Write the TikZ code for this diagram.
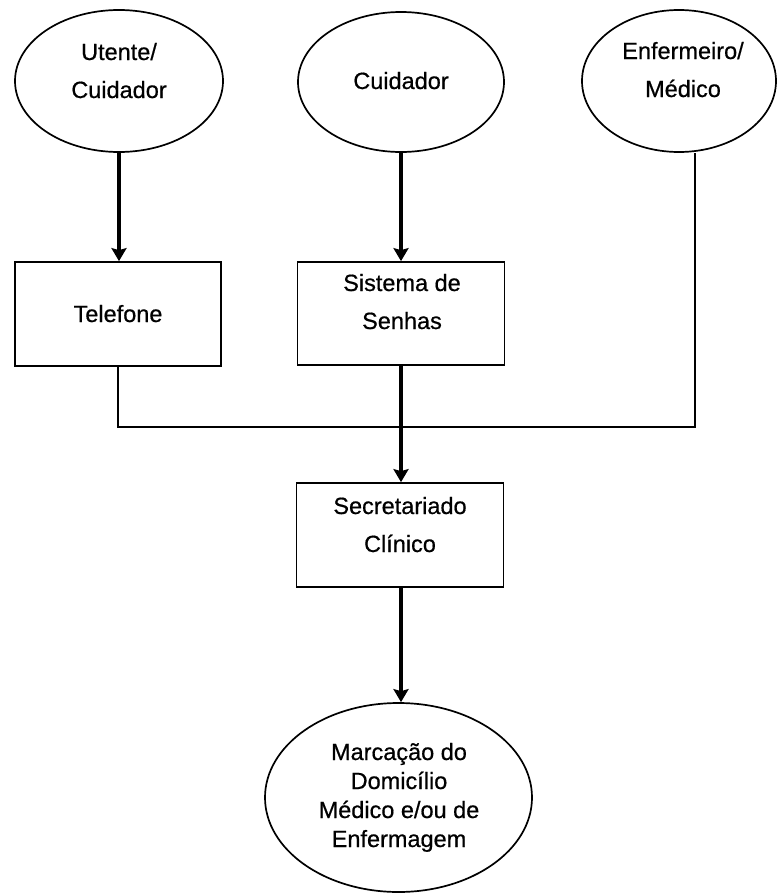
\documentclass[tikz,border=0pt]{standalone}
\usepackage{fontspec}
\setmainfont{Liberation Sans}[UprightFeatures={FakeBold=0.6}]
\usetikzlibrary{arrows.meta,shapes.geometric}
\begin{document}
\begin{tikzpicture}[x=1pt,y=-1pt,
  shapeline/.style={draw, line width=1.7pt},
  oval/.style={shapeline, ellipse, inner sep=0pt},
  box/.style={shapeline, rectangle, inner sep=0pt},
  txt/.style={font=\fontsize{23.5}{38}\selectfont, align=center, inner sep=0pt, anchor=base},
  txtb/.style={font=\fontsize{23.5}{29}\selectfont, align=center, inner sep=0pt, anchor=base},
  flow/.style={line width=3.4pt, -{Stealth[length=13pt,width=15pt,inset=2pt]}},
  link/.style={line width=1.7pt}]
\useasboundingbox (0,0) rectangle (777,894);

% shapes
\node[oval, minimum width=208pt, minimum height=142pt] (ute) at (119,81) {};
\node[oval, minimum width=206pt, minimum height=140pt] (cui) at (401,82) {};
\node[oval, minimum width=194pt, minimum height=142pt] (enf) at (679,81) {};
\node[box, minimum width=206pt, minimum height=104pt] (tel) at (118,314) {};
\node[box, minimum width=207pt, minimum height=103pt] (sis) at (401,313.5) {};
\node[box, minimum width=207pt, minimum height=104pt] (sec) at (400,535) {};
\node[oval, minimum width=267pt, minimum height=189pt] (mar) at (398.5,797.5) {};

% texts (anchor base = baseline of the last line)
\node[txt] (tute) at (119,98) {Utente/\\Cuidador};
\node[txt] (tcui) at (401,89) {Cuidador};
\node[txt] (tenf) at (683,97) {Enfermeiro/\\Médico};
\node[txt] (ttel) at (118,322) {Telefone};
\node[txt] (tsis) at (402,329) {Sistema de\\Senhas};
\node[txt] (tsec) at (400,552) {Secretariado\\Clínico};
\node[txtb] (tmar) at (399,847) {Marcação do\\Domicílio\\Médico e/ou de\\Enfermagem};

% connectors
\coordinate (k) at (695,427);
\draw[flow] (ute.south) -- (ute.south |- tel.north);
\draw[flow] (cui.south) -- (cui.south |- sis.north);
\draw[flow] (sis.south) -- (sis.south |- sec.north);
\draw[flow] (sec.south -| sis.south) -- (sis.south |- mar.north);
\draw[link] (tel.south) |- (k) -- (k |- enf.south);
\end{tikzpicture}
\end{document}
